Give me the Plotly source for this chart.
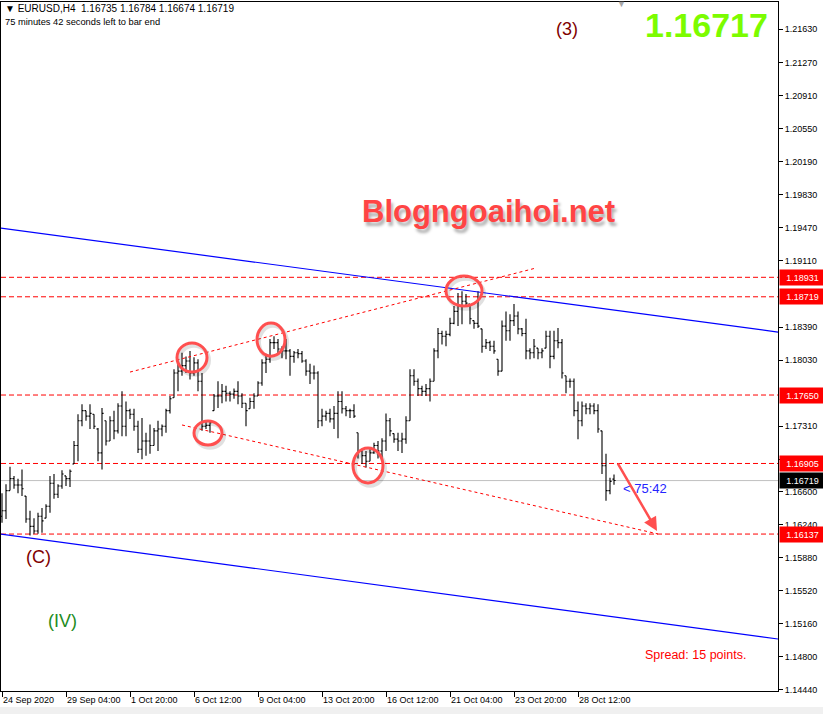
import plotly.graph_objects as go

# ---- data (EURUSD H4) ----
bar_index = list(range(154))

opens = [
    1.1633, 1.1639, 1.1661, 1.1674, 1.1667, 1.1667, 1.1655, 1.1630, 1.1622, 1.1617,
    1.1633, 1.1631, 1.1644, 1.1669, 1.1657, 1.1666, 1.1677, 1.1674, 1.1690, 1.1710,
    1.1737, 1.1748, 1.1742, 1.1744, 1.1728, 1.1702, 1.1737, 1.1715, 1.1737, 1.1726,
    1.1753, 1.1731, 1.1748, 1.1744, 1.1731, 1.1706, 1.1715, 1.1715, 1.1710, 1.1726,
    1.1728, 1.1731, 1.1748, 1.1762, 1.1789, 1.1791, 1.1797, 1.1802, 1.1789, 1.1800,
    1.1780, 1.1731, 1.1732, 1.1748, 1.1764, 1.1764, 1.1769, 1.1767, 1.1766, 1.1769,
    1.1764, 1.1756, 1.1750, 1.1758, 1.1764, 1.1778, 1.1800, 1.1804, 1.1822, 1.1822,
    1.1815, 1.1813, 1.1813, 1.1807, 1.1811, 1.1810, 1.1802, 1.1791, 1.1789, 1.1789,
    1.1737, 1.1742, 1.1745, 1.1739, 1.1745, 1.1758, 1.1750, 1.1748, 1.1748, 1.1724,
    1.1704, 1.1699, 1.1693, 1.1702, 1.1710, 1.1704, 1.1715, 1.1737, 1.1723, 1.1717,
    1.1715, 1.1717, 1.1737, 1.1786, 1.1780, 1.1772, 1.1769, 1.1772, 1.1780, 1.1813,
    1.1832, 1.1829, 1.1831, 1.1843, 1.1856, 1.1862, 1.1867, 1.1864, 1.1846, 1.1843,
    1.1837, 1.1818, 1.1822, 1.1818, 1.1804, 1.1791, 1.1840, 1.1835, 1.1846, 1.1851,
    1.1837, 1.1832, 1.1813, 1.1811, 1.1816, 1.1811, 1.1816, 1.1829, 1.1807, 1.1824,
    1.1822, 1.1786, 1.1780, 1.1780, 1.1748, 1.1737, 1.1753, 1.1750, 1.1753, 1.1748,
    1.1726, 1.1688, 1.1661, 1.16735,
]
highs = [
    1.1658, 1.1668, 1.1687, 1.1677, 1.1674, 1.1684, 1.1655, 1.1639, 1.1631, 1.1637,
    1.1642, 1.1646, 1.1677, 1.1679, 1.1668, 1.1683, 1.1677, 1.1684, 1.1715, 1.1744,
    1.1755, 1.1748, 1.1755, 1.1744, 1.1729, 1.1751, 1.1737, 1.1742, 1.1748, 1.1756,
    1.1769, 1.1758, 1.1750, 1.1750, 1.1737, 1.1740, 1.1724, 1.1733, 1.1729, 1.1737,
    1.1733, 1.1750, 1.1764, 1.1793, 1.1802, 1.1811, 1.1807, 1.1813, 1.1806, 1.1804,
    1.1789, 1.1737, 1.1737, 1.1766, 1.1780, 1.1777, 1.1775, 1.1769, 1.1772, 1.1780,
    1.1767, 1.1756, 1.1762, 1.1767, 1.1780, 1.1804, 1.1810, 1.1826, 1.1829, 1.1826,
    1.1818, 1.1826, 1.1815, 1.1813, 1.1815, 1.1813, 1.1804, 1.1799, 1.1797, 1.1791,
    1.1750, 1.1748, 1.1750, 1.1753, 1.1769, 1.1769, 1.1753, 1.1750, 1.1755, 1.1724,
    1.1706, 1.1704, 1.1706, 1.1713, 1.1715, 1.1718, 1.1745, 1.1740, 1.1723, 1.1724,
    1.1724, 1.1742, 1.1793, 1.1793, 1.1783, 1.1775, 1.1777, 1.1783, 1.1816, 1.1838,
    1.1835, 1.1835, 1.1849, 1.1862, 1.1876, 1.1878, 1.1875, 1.1864, 1.1846, 1.1878,
    1.1837, 1.1826, 1.1824, 1.1824, 1.1804, 1.1846, 1.1856, 1.1853, 1.1864, 1.1856,
    1.1838, 1.1848, 1.1816, 1.1826, 1.1816, 1.1816, 1.1835, 1.1835, 1.1835, 1.1838,
    1.1826, 1.1786, 1.1783, 1.1783, 1.1758, 1.1758, 1.1756, 1.1756, 1.1756, 1.1755,
    1.1726, 1.1701, 1.1675, 1.16784,
]
lows = [
    1.1626, 1.1630, 1.1661, 1.1663, 1.1658, 1.1655, 1.1626, 1.1612, 1.1614, 1.1614,
    1.1615, 1.1631, 1.1637, 1.1652, 1.1653, 1.1663, 1.1666, 1.1665, 1.1690, 1.1693,
    1.1731, 1.1737, 1.1728, 1.1728, 1.1693, 1.1684, 1.1710, 1.1715, 1.1717, 1.1723,
    1.1720, 1.1720, 1.1739, 1.1726, 1.1702, 1.1695, 1.1699, 1.1701, 1.1710, 1.1704,
    1.1720, 1.1724, 1.1745, 1.1762, 1.1769, 1.1786, 1.1789, 1.1782, 1.1786, 1.1769,
    1.1726, 1.1728, 1.1724, 1.1748, 1.1751, 1.1756, 1.1758, 1.1758, 1.1761, 1.1755,
    1.1751, 1.1731, 1.1750, 1.1750, 1.1764, 1.1775, 1.1789, 1.1800, 1.1815, 1.1810,
    1.1805, 1.1804, 1.1786, 1.1800, 1.1805, 1.1800, 1.1786, 1.1777, 1.1782, 1.1729,
    1.1731, 1.1737, 1.1735, 1.1728, 1.1718, 1.1745, 1.1742, 1.1740, 1.1740, 1.1696,
    1.1690, 1.1686, 1.1693, 1.1701, 1.1696, 1.1695, 1.1704, 1.1720, 1.1713, 1.1704,
    1.1702, 1.1712, 1.1737, 1.1775, 1.1764, 1.1764, 1.1764, 1.1758, 1.1780, 1.1805,
    1.1820, 1.1818, 1.1829, 1.1842, 1.1840, 1.1842, 1.1862, 1.1842, 1.1837, 1.1838,
    1.1811, 1.1815, 1.1813, 1.1810, 1.1786, 1.1791, 1.1824, 1.1824, 1.1840, 1.1831,
    1.1829, 1.1804, 1.1804, 1.1805, 1.1804, 1.1805, 1.1816, 1.1794, 1.1804, 1.1816,
    1.1783, 1.1767, 1.1773, 1.1742, 1.1717, 1.1731, 1.1744, 1.1744, 1.1744, 1.1724,
    1.1679, 1.1650, 1.1657, 1.16674,
]
closes = [
    1.1639, 1.1661, 1.1674, 1.1667, 1.1667, 1.1663, 1.1630, 1.1622, 1.1617, 1.1633,
    1.1628, 1.1644, 1.1669, 1.1657, 1.1666, 1.1679, 1.1674, 1.1682, 1.1710, 1.1737,
    1.1748, 1.1742, 1.1745, 1.1731, 1.1702, 1.1745, 1.1715, 1.1737, 1.1726, 1.1753,
    1.1731, 1.1748, 1.1744, 1.1731, 1.1706, 1.1715, 1.1715, 1.1710, 1.1726, 1.1728,
    1.1731, 1.1748, 1.1761, 1.1789, 1.1791, 1.1797, 1.1802, 1.1789, 1.1800, 1.1780,
    1.1731, 1.1732, 1.1735, 1.1764, 1.1764, 1.1769, 1.1767, 1.1766, 1.1769, 1.1764,
    1.1756, 1.1748, 1.1758, 1.1764, 1.1778, 1.1800, 1.1804, 1.1822, 1.1822, 1.1815,
    1.1813, 1.1813, 1.1807, 1.1811, 1.1810, 1.1802, 1.1791, 1.1789, 1.1789, 1.1737,
    1.1742, 1.1745, 1.1739, 1.1745, 1.1758, 1.1750, 1.1748, 1.1748, 1.1742, 1.1704,
    1.1699, 1.1693, 1.1702, 1.1710, 1.1704, 1.1715, 1.1737, 1.1726, 1.1717, 1.1715,
    1.1717, 1.1737, 1.1786, 1.1780, 1.1772, 1.1769, 1.1772, 1.1780, 1.1813, 1.1832,
    1.1829, 1.1831, 1.1843, 1.1856, 1.1862, 1.1867, 1.1865, 1.1848, 1.1843, 1.1840,
    1.1818, 1.1822, 1.1818, 1.1813, 1.1791, 1.1840, 1.1835, 1.1846, 1.1851, 1.1837,
    1.1832, 1.1813, 1.1811, 1.1818, 1.1811, 1.1813, 1.1829, 1.1807, 1.1824, 1.1822,
    1.1789, 1.1780, 1.1780, 1.1748, 1.1737, 1.1753, 1.1750, 1.1753, 1.1748, 1.1728,
    1.1688, 1.1661, 1.1671, 1.16719,
]

time_tick_index = [0, 16, 32, 48, 64, 80, 96, 112, 128, 144]
time_tick_text = ["24 Sep 2020", "29 Sep 04:00", "1 Oct 20:00", "6 Oct 12:00",
                  "9 Oct 04:00", "13 Oct 20:00", "16 Oct 12:00", "21 Oct 04:00",
                  "23 Oct 20:00", "28 Oct 12:00"]

# scale labels that stay visible (the others sit under the level boxes)
price_ticks = [1.21630, 1.21270, 1.20910, 1.20550, 1.20190, 1.19830, 1.19470,
               1.19110, 1.18390, 1.18030, 1.17310, 1.16950,
               1.16600, 1.16240, 1.15880, 1.15520, 1.15160, 1.14800, 1.14440]
price_tick_text = ["1.21630", "1.21270", "1.20910", "1.20550", "1.20190", "1.19830",
                   "1.19470", "1.19110", "1.18390", "1.18030",
                   "1.17310", "1.16950", "1.16600", "1.16240", "1.15880", "1.15520",
                   "1.15160", "1.14800", "1.14440"]

levels = [1.18931, 1.18719, 1.17650, 1.16905, 1.16137]
level_text = ["1.18931", "1.18719", "1.17650", "1.16905", "1.16137"]
last_price = 1.16719
last_text = "1.16719"

# channel and trend lines: (bar index, price) end points
channel_x = [-0.5, 194]
channel_upper = [1.19467, 1.18335]
channel_lower = [1.16138, 1.14995]
trend_upper_x = [32, 133.5]
trend_upper_y = [1.17900, 1.19032]
trend_lower_x = [45, 164]
trend_lower_y = [1.17324, 1.16138]

# highlighted swing points: centre bar, centre price, half width (bars), half height
circle_bar = [47.5, 51.5, 67.25, 91.5, 115.5]
circle_price = [1.18058, 1.17236, 1.18253, 1.16883, 1.18781]
circle_dx = [3.75, 3.5, 3.5, 3.75, 4.5]
circle_dy = [0.00158, 0.00130, 0.00180, 0.00190, 0.00163]

arrow_from = (153.75, 1.16921)
arrow_to = (163.75, 1.16170)

# ---- layout helpers (figure pixel -> paper) ----
W, H = 823, 714
ML, MR, MT, MB = 1, 45, 2, 23


def px(x):
    return (x - ML) / (W - ML - MR)


def py(y):
    return (H - MB - y) / (H - MT - MB)


FONT = "Liberation Sans, Arial, sans-serif"

fig = go.Figure()

fig.add_trace(go.Scatter(x=channel_x, y=channel_upper, mode="lines",
                         line=dict(color="#0000FF", width=1.2), hoverinfo="skip"))
fig.add_trace(go.Scatter(x=channel_x, y=channel_lower, mode="lines",
                         line=dict(color="#0000FF", width=1.2), hoverinfo="skip"))
fig.add_trace(go.Scatter(x=trend_upper_x, y=trend_upper_y, mode="lines",
                         line=dict(color="#FF0000", width=1, dash="3px,3px"),
                         hoverinfo="skip"))
fig.add_trace(go.Scatter(x=trend_lower_x, y=trend_lower_y, mode="lines",
                         line=dict(color="#FF0000", width=1, dash="3px,3px"),
                         hoverinfo="skip"))

fig.add_trace(go.Ohlc(x=bar_index, open=opens, high=highs, low=lows, close=closes,
                      increasing=dict(line=dict(color="black", width=1.1)),
                      decreasing=dict(line=dict(color="black", width=1.1)),
                      tickwidth=0.4, hoverinfo="skip"))

shapes = []
for lv in levels:
    shapes.append(dict(type="line", xref="paper", x0=0, x1=1, yref="y", y0=lv, y1=lv,
                       line=dict(color="#FF0000", width=1, dash="5px,3px"), layer="below"))
shapes.append(dict(type="line", xref="paper", x0=0, x1=1, yref="y",
                   y0=last_price, y1=last_price,
                   line=dict(color="#C0C0C0", width=1), layer="below"))

for cx, cy, dx, dy in zip(circle_bar, circle_price, circle_dx, circle_dy):
    # soft shadow
    shapes.append(dict(type="circle", xref="x", yref="y",
                       x0=cx - dx + 0.5, x1=cx + dx + 0.5,
                       y0=cy - dy - 0.0003, y1=cy + dy - 0.0003,
                       line=dict(color="rgba(0,0,0,0.12)", width=4)))
    shapes.append(dict(type="circle", xref="x", yref="y",
                       x0=cx - dx, x1=cx + dx, y0=cy - dy, y1=cy + dy,
                       line=dict(color="#FF4F4F", width=3)))

# strip under the time scale
shapes.append(dict(type="rect", xref="paper", yref="paper",
                   x0=px(0), x1=px(W), y0=py(707), y1=py(H),
                   fillcolor="#F0F0F0", line=dict(width=0)))

annotations = []


def txt(x, y, text, size, color, xanchor="left", weight="normal", shadow="none"):
    annotations.append(dict(x=px(x), y=py(y), xref="paper", yref="paper", text=text,
                            showarrow=False, xanchor=xanchor, yanchor="middle",
                            font=dict(family=FONT, size=size, color=color,
                                      weight=weight, shadow=shadow)))


txt(3, 9, "▼ EURUSD,H4\u00a0\u00a01.16735 1.16784 1.16674 1.16719", 10, "black")
txt(3, 22, "75 minutes 42 seconds left to bar end", 9.3, "black")
txt(706, 25, "1.16717", 34, "#7CFC00", xanchor="center", weight="bold")
txt(567, 29, "(3)", 18, "#800000", xanchor="center")
txt(38, 557, "(C)", 18, "#800000", xanchor="center")
txt(62, 621, "(IV)", 18, "#228B22", xanchor="center")
txt(488, 211, "Blogngoaihoi.net", 31, "#FF4444", xanchor="center", weight="bold",
    shadow="2px 4px 3px rgba(0,0,0,0.30)")
txt(695, 655, "Spread: 15 points.", 12.5, "#FF0000", xanchor="center")
txt(621, 488, "&lt; 75:42", 13, "#2525FF")
txt(621, 4, "▼", 9, "#A8A8A8", xanchor="center")

# price labels on the scale
for lv, lt in zip(levels, level_text):
    annotations.append(dict(x=1, y=lv, xref="paper", yref="y", text=lt,
                            showarrow=False, xanchor="left", yanchor="middle",
                            xshift=1, width=43, height=13, bgcolor="#FF0000",
                            font=dict(family=FONT, size=9, color="white")))
annotations.append(dict(x=1, y=last_price, xref="paper", yref="y",
                        text=last_text, showarrow=False, xanchor="left",
                        yanchor="middle", xshift=1, width=43, height=13,
                        bgcolor="black", font=dict(family=FONT, size=9, color="white")))

# arrow
annotations.append(dict(x=arrow_to[0], y=arrow_to[1], xref="x", yref="y",
                        ax=arrow_from[0], ay=arrow_from[1], axref="x", ayref="y",
                        text="", showarrow=True, arrowhead=2, arrowsize=1.1,
                        arrowwidth=2.5, arrowcolor="#FF4F4F"))

fig.update_layout(
    width=W, height=H,
    margin=dict(l=ML, r=MR, t=MT, b=MB, autoexpand=False),
    paper_bgcolor="white", plot_bgcolor="white",
    showlegend=False,
    shapes=shapes,
    annotations=annotations,
    font=dict(family=FONT, size=9, color="black"),
)

fig.update_xaxes(range=[-0.25, 194], showgrid=False, zeroline=False,
                 showline=True, linecolor="black", linewidth=1, mirror=True,
                 ticks="outside", ticklen=5, tickcolor="black",
                 tickvals=time_tick_index, ticktext=time_tick_text,
                 ticklabelposition="outside right", automargin=False,
                 tickfont=dict(family=FONT, size=9, color="black"),
                 rangeslider=dict(visible=False))
fig.update_yaxes(range=[1.14429, 1.21927], side="right", showgrid=False,
                 zeroline=False, showline=True, linecolor="black", linewidth=1,
                 mirror=True, ticks="outside", ticklen=4, tickcolor="black",
                 tickvals=price_ticks, ticktext=price_tick_text,
                 automargin=False,
                 tickfont=dict(family=FONT, size=9, color="black"))

fig.write_html("out.html", config={"displayModeBar": False},
               post_script="document.body.style.margin='0';"
                           "document.body.style.overflow='hidden';")
